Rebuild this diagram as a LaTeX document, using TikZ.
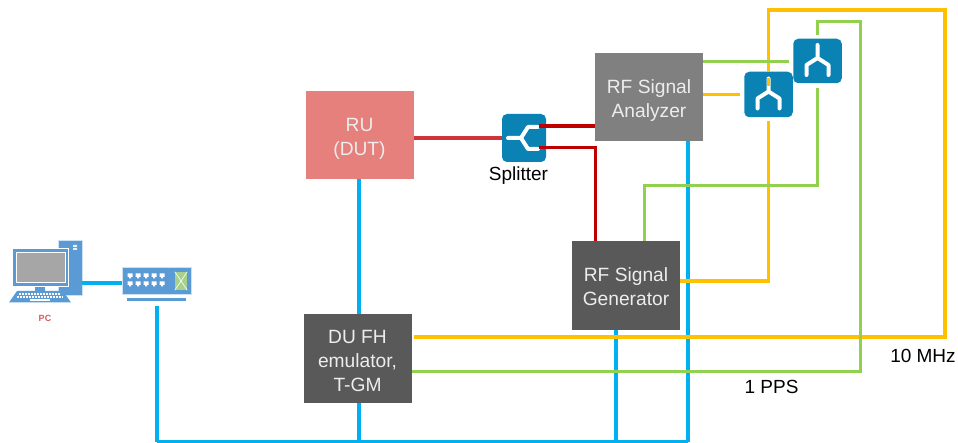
\documentclass[tikz,border=0pt]{standalone}
\usepackage{fontspec}
\setmainfont{Liberation Sans}

\definecolor{ethblue}{HTML}{00B0F0}
\definecolor{tenyellow}{HTML}{FFC000}
\definecolor{ppsgreen}{HTML}{92D050}
\definecolor{rfred}{HTML}{C00000}
\definecolor{iconblue}{HTML}{0A82B4}
\definecolor{pcblue}{HTML}{5B9BD5}
\definecolor{rupink}{RGB}{229,128,125}
\definecolor{rulink}{RGB}{208,52,56}
\definecolor{pclabelred}{RGB}{214,92,88}
\definecolor{panelgreen}{RGB}{169,209,142}

\newcommand{\toppad}[1]{\rule{0pt}{#1}}

\tikzset{
  main node/.style={rectangle,inner sep=0pt,minimum width=108pt,minimum height=88.5pt,
    align=center,text=white!93!black,font=\fontsize{19.2}{24}\selectfont},
  plain label/.style={inner sep=0pt,text=black,font=\fontsize{19}{22}\selectfont},
  icon node/.style={rectangle,rounded corners=5pt,fill=iconblue,inner sep=0pt},
  fork/.pic={
    \draw[white,line width=4pt,line cap=round,line join=round]
      (0,-16) -- (0,-3) -- (-11,4) -- (-11,14) (0,-3) -- (11,4) -- (11,14);
  },
  eth/.style={draw=ethblue,line width=3.2pt},
  ten/.style={draw=tenyellow,line width=3.2pt},
  pps/.style={draw=ppsgreen,line width=3pt},
  rf/.style={draw=rfred,line width=3.2pt}
}

\begin{document}
\begin{tikzpicture}[x=1pt,y=-1pt]
  \useasboundingbox (0,0) rectangle (958,443);

  % boxes
  \node[main node,fill=rupink] (ru) at (359.5,135) {\toppad{20pt}RU\\(DUT)};
  \node[main node,fill=black!65] (du) at (357.5,358.5) {\toppad{18pt}DU FH\\emulator,\\T-GM};
  \node[main node,fill=black!50] (ana) at (649,97) {\toppad{20pt}RF Signal\\Analyzer};
  \node[main node,fill=black!65] (gen) at (626,285.5) {\toppad{17pt}RF Signal\\Generator};

  % splitter and the two combiners
  \node[icon node,minimum width=44pt,minimum height=48pt] (sp) at (524,138) {};
  \node[icon node,minimum width=48.5pt,minimum height=45.5pt] (cmbten) at (768.5,94.5) {};
  \node[icon node,minimum width=48.5pt,minimum height=44.5pt] (cmbpps) at (817.5,61) {};
  \pic[rotate=90] at (sp) {fork};
  \pic at (cmbten) {fork};
  \pic at (cmbpps) {fork};

  % PC
  \node[rectangle,fill=pcblue,draw=white!70!pcblue,thin,inner sep=0pt,minimum width=24pt,minimum height=55pt] (pc) at (70,268) {};
  \fill[white!85!pcblue] (73,245) rectangle (77,247) (73,248) rectangle (77,250);
  \fill[pcblue] (35,286) rectangle (45,292);
  \node[rectangle,fill=pcblue,draw=white,semithick,inner sep=0pt,minimum width=56pt,minimum height=38pt] (mon) at (40,267) {};
  \node[rectangle,fill=black!35,draw=white,thick,inner sep=0pt,minimum width=49pt,minimum height=30pt] (scr) at (40.5,267) {};
  \fill[pcblue] (17,291) -- (63,291) -- (71,302.5) -- (9,302.5) -- cycle;
  \foreach \row/\xa/\xb in {294/19/60,297/17/63}
    \draw[white,line width=1.4pt,dash pattern=on 2pt off 1pt] (\xa,\row) -- (\xb,\row);
  \draw[white,line width=1.4pt] (30,300) -- (50,300);
  \node[inner sep=0pt,text=pclabelred,font=\bfseries\fontsize{9}{10}\selectfont] (pclabel) at (45,318) {PC};

  % switch
  \node[rectangle,fill=pcblue,draw=white!70!pcblue,thin,inner sep=0pt,minimum width=69pt,minimum height=27pt] (sw) at (156.5,280.5) {};
  \fill[pcblue] (127,298) rectangle (186,301);
  \foreach \col in {130,138,146,154,162}
    \foreach \row in {276,284}
      \fill[white] (\col-2.5,\row-2.5) rectangle (\col+2.5,\row+1) (\col-1,\row+1) rectangle (\col+1,\row+2.5);
  \node[rectangle,fill=panelgreen,inner sep=0pt,minimum width=12pt,minimum height=18pt] (swpanel) at (181,281) {};
  \draw[white,semithick] (swpanel.north west) -- (swpanel.south east) (swpanel.north east) -- (swpanel.south west);

  % bends of the long lines
  \coordinate (busleft) at (157,441.5);
  \coordinate (busru) at (359,441.5);
  \coordinate (busgen) at (616,441.5);
  \coordinate (busright) at (688,441.5);
  \coordinate (tena) at (768.5,10);
  \coordinate (tenb) at (945,10);
  \coordinate (tenc) at (945,337);
  \coordinate (ppsa) at (860.5,371);
  \coordinate (ppsb) at (860.5,21.5);
  \coordinate (ppsc) at (817.5,21.5);
  \coordinate (ppsd) at (817.5,186);
  \coordinate (ppse) at (644,186);

  % ethernet
  \draw[eth] ([yshift=-2.5pt]pc.east |- sw.west) -- ([yshift=-2.5pt]sw.west);
  \draw[eth,shorten <=12pt] ([xshift=.5pt]sw.south) -- (busleft);
  \draw[eth,line width=2.2pt] (busleft) -- (busright);
  \draw[eth] (busright) -- ([xshift=39pt]ana.south);
  \draw[eth] ([xshift=-.5pt]ru.south) -- ([xshift=1.5pt]du.north);
  \draw[eth] ([xshift=1.5pt]du.south) -- (busru);
  \draw[eth] ([xshift=-10pt]gen.south) -- (busgen);

  % 10 MHz
  \draw[ten,shorten <=2pt] ([yshift=21.5pt]du.east) -- (tenc) -- (tenb) -- (tena) -- (cmbten.north);
  \draw[ten,shorten >=4pt] ([yshift=4.5pt]gen.east) -| (cmbten.south);
  \draw[ten,shorten >=4pt] ([yshift=2.5pt]ana.east) -- (cmbten.west |- 0,94.5);
  \draw[ten,line width=3pt] ([yshift=16.5pt]cmbten.center) -- ([yshift=8.5pt]cmbten.center);

  % 1 PPS
  \draw[pps] ([yshift=-12.5pt]du.east) -- (ppsa) -- (ppsb) -- (ppsc) -- ([yshift=4pt]cmbpps.north);
  \draw[pps,shorten >=5pt] ([xshift=18pt]gen.north) |- (ppse) -- (ppsd) -- (cmbpps.south);
  \draw[pps,shorten >=4pt] ([yshift=35.7pt]ana.east) -- (cmbpps.west |- 0,61.3);

  % rf path
  \draw[draw=rulink,line width=3.2pt] (ru.east |- sp.west) -- (sp.west);
  \draw[rf] ([xshift=14.5pt,yshift=12pt]sp.center) -- (ana.west |- 0,126);
  \draw[rf] ([xshift=14.5pt,yshift=-9.5pt]sp.center) -| ([xshift=-30.3pt]gen.north);

  % labels
  \node[plain label] (splabel) at (518.5,176) {Splitter};
  \node[plain label] (tenlabel) at (923,356) {10 MHz};
  \node[plain label] (ppslabel) at (771.5,387) {1 PPS};
\end{tikzpicture}
\end{document}
